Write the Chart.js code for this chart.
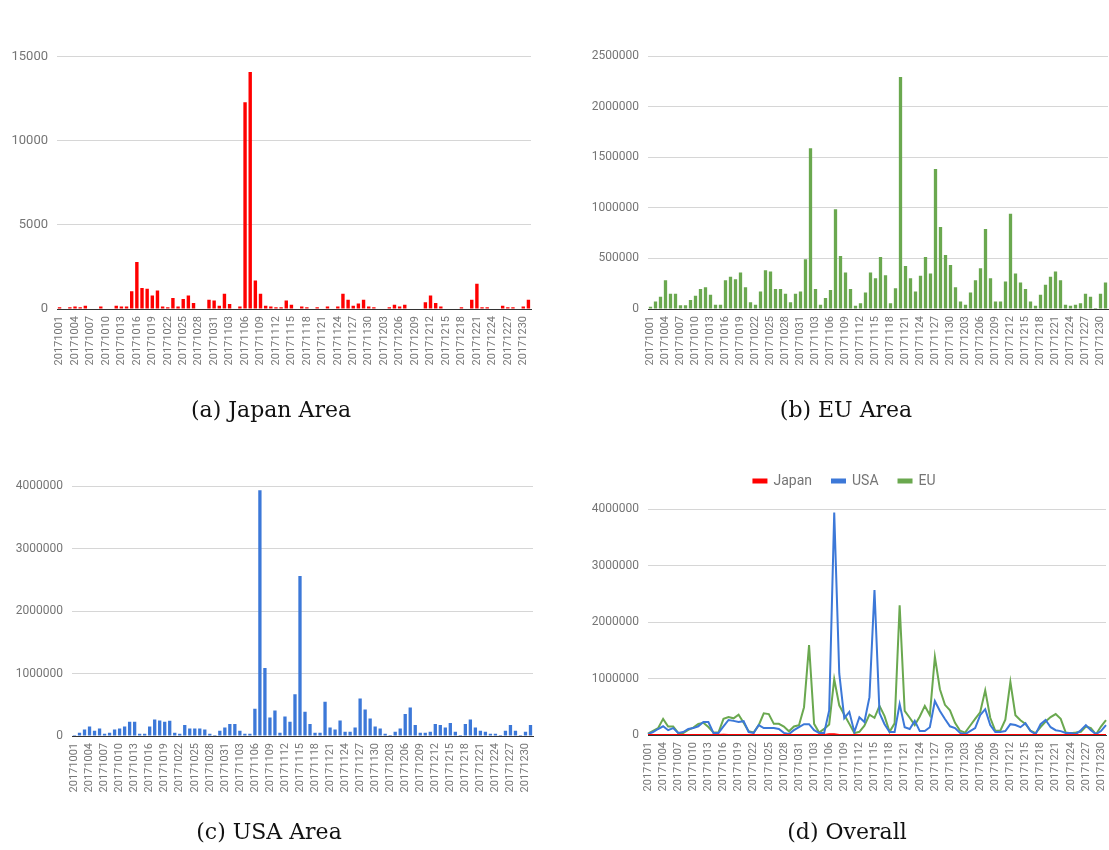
<!DOCTYPE html>
<html lang="en">
  <head>
    <meta charset="utf-8" />
    <title>Daily volume by area, Oct-Dec 2017</title>
    <style>
      * {
        margin: 0;
        padding: 0;
      }
      body {
        width: 1109px;
        height: 850px;
        position: relative;
        background: white;
        font-family: Roboto, sans-serif;
      }
      .panel {
        position: absolute;
      }
      .caption {
        position: absolute;
        width: 300px;
        text-align: center;
        font-family: "DejaVu Serif", serif;
        font-size: 22px;
        line-height: 26px;
        color: #111;
      }
    </style>
  </head>
  <body>
    <div class="panel" style="left: 0; top: 40px; width: 540px; height: 370px">
      <canvas id="japanChart"></canvas>
    </div>
    <div class="panel" style="left: 560px; top: 40px; width: 549px; height: 370px">
      <canvas id="euChart"></canvas>
    </div>
    <div class="panel" style="left: 0; top: 470px; width: 540px; height: 366px">
      <canvas id="usaChart"></canvas>
    </div>
    <div class="panel" style="left: 560px; top: 454px; width: 549px; height: 382px">
      <canvas id="overallChart"></canvas>
    </div>

    <div class="caption" style="left: 121px; top: 397px">(a) Japan Area</div>
    <div class="caption" style="left: 696px; top: 397px">(b) EU Area</div>
    <div class="caption" style="left: 119px; top: 819px">(c) USA Area</div>
    <div class="caption" style="left: 697px; top: 819px">(d) Overall</div>

    <script src="https://cdn.jsdelivr.net/npm/chart.js"></script>

    <script>
      // one label per day, 20171001 .. 20171231
      const days = [];
      [[10, 31], [11, 30], [12, 31]].forEach(([month, count]) => {
        for (let d = 1; d <= count; d++) {
          days.push("2017" + month + String(d).padStart(2, "0"));
        }
      });

      const japan = [
        100, 0, 100, 150, 100, 200, 0, 0, 150, 0, 0, 200, 150, 150, 1050, 2800,
        1250, 1200, 800, 1100, 150, 100, 650, 150, 600, 800, 350, 0, 0, 550, 500,
        200, 900, 300, 0, 150, 12300, 14100, 1700, 900, 200, 150, 100, 100, 500,
        250, 0, 150, 100, 0, 100, 0, 150, 0, 150, 900, 550, 200, 330, 550, 150,
        100, 0, 0, 100, 250, 150, 250, 0, 0, 0, 400, 800, 350, 150, 0, 0, 0, 100,
        0, 550, 1500, 100, 100, 0, 0, 200, 100, 100, 0, 150, 550,
      ];

      const usa = [
        16000, 53000, 106000, 154000, 85000, 122000, 37000, 53000, 106000, 122000,
        154000, 229000, 229000, 37000, 37000, 154000, 266000, 250000, 229000,
        245000, 53000, 37000, 176000, 122000, 122000, 122000, 106000, 37000, 16000,
        85000, 138000, 191000, 191000, 85000, 37000, 37000, 436000, 3936000,
        1090000, 298000, 410000, 53000, 314000, 229000, 670000, 2564000, 388000,
        191000, 53000, 53000, 548000, 138000, 106000, 250000, 69000, 69000, 138000,
        601000, 426000, 282000, 154000, 122000, 37000, 16000, 69000, 122000,
        351000, 457000, 176000, 53000, 53000, 69000, 191000, 176000, 138000,
        207000, 69000, 16000, 191000, 266000, 138000, 85000, 69000, 37000, 37000,
        16000, 85000, 176000, 85000, 16000, 69000, 176000,
      ];

      const eu = [
        23000, 75000, 120000, 285000, 150000, 150000, 36000, 36000, 90000, 130000,
        197000, 216000, 140000, 43000, 43000, 285000, 318000, 295000, 360000,
        216000, 66000, 43000, 174000, 384000, 370000, 197000, 197000, 150000,
        66000, 150000, 174000, 492000, 1590000, 197000, 43000, 108000, 187000,
        987000, 525000, 360000, 197000, 33000, 56000, 164000, 360000, 305000,
        515000, 334000, 56000, 206000, 2295000, 426000, 305000, 174000, 328000,
        515000, 351000, 1384000, 810000, 534000, 436000, 216000, 75000, 43000,
        164000, 285000, 403000, 790000, 305000, 75000, 75000, 272000, 941000,
        351000, 262000, 197000, 75000, 33000, 140000, 239000, 318000, 370000,
        285000, 43000, 33000, 43000, 56000, 150000, 120000, 10000, 150000, 262000,
      ];

      const RED = "#ff0000";
      const BLUE = "#3c78d8";
      const GREEN = "#6aa84f";
      const TICK_GREY = "#757575";

      // shared axes; sizes are fixed so the plot areas land where the figure has them
      function axes(yMax, yStep, yWidth, xHeight, yFont) {
        return {
          x: {
            grid: { display: false, drawTicks: false },
            border: { display: true, color: "#333", width: 1 },
            afterFit(scale) {
              scale.height = xHeight;
              // rotated labels make chart.js reserve room at the sides, we don't want it
              scale.paddingLeft = 0;
              scale.paddingRight = 0;
            },
            ticks: {
              autoSkip: false,
              minRotation: 90,
              maxRotation: 90,
              padding: 7,
              color: TICK_GREY,
              font: { family: "Roboto", size: 11 },
              // only every third day gets a label
              callback(value, index) {
                return index % 3 === 0 ? this.getLabelForValue(value) : "";
              },
            },
          },
          y: {
            min: 0,
            max: yMax,
            border: { display: false },
            grid: {
              drawTicks: false,
              color: (ctx) => (ctx.tick && ctx.tick.value === 0 ? "rgba(0,0,0,0)" : "#d6d6d6"),
            },
            afterFit(scale) {
              scale.width = yWidth;
            },
            ticks: {
              stepSize: yStep,
              padding: 9,
              color: TICK_GREY,
              font: { family: "Roboto", size: yFont },
              callback: (value) => String(value),
            },
          },
        };
      }

      function barChart(id, values, color, yMax, yStep, yWidth, xHeight, pad, yFont) {
        return new Chart(document.getElementById(id), {
          type: "bar",
          data: {
            labels: days,
            datasets: [
              {
                data: values,
                backgroundColor: color,
                categoryPercentage: 1,
                barPercentage: 0.66,
              },
            ],
          },
          options: {
            responsive: true,
            maintainAspectRatio: false,
            animation: false,
            layout: { padding: pad },
            plugins: { legend: { display: false }, tooltip: { enabled: false } },
            scales: axes(yMax, yStep, yWidth, xHeight, yFont),
          },
        });
      }

      barChart("japanChart", japan, RED, 15000, 5000, 57, 101, { top: 15, right: 9 }, 13);
      barChart("euChart", eu, GREEN, 2500000, 500000, 88, 101, { top: 15, right: 1 }, 12);
      barChart("usaChart", usa, BLUE, 4000000, 1000000, 72, 100, { top: 15, right: 7 }, 12);

      // extra room under the legend, the default leaves too little
      const legendGap = {
        id: "legendGap",
        beforeInit(chart) {
          if (!chart.legend) return;
          const fit = chart.legend.fit;
          chart.legend.fit = function () {
            fit.bind(chart.legend)();
            this.height += 11;
          };
        },
      };

      const line = (label, values, color) => ({
        label,
        data: values,
        borderColor: color,
        backgroundColor: color,
        borderWidth: 2,
        pointRadius: 0,
        tension: 0,
      });

      new Chart(document.getElementById("overallChart"), {
        type: "line",
        data: {
          labels: days,
          datasets: [line("Japan", japan, RED), line("USA", usa, BLUE), line("EU", eu, GREEN)],
        },
        options: {
          responsive: true,
          maintainAspectRatio: false,
          animation: false,
          layout: { padding: { left: 23, right: 3 } },
          plugins: {
            tooltip: { enabled: false },
            legend: {
              position: "top",
              labels: {
                boxWidth: 13,
                boxHeight: 3,
                padding: 20,
                color: TICK_GREY,
                font: { family: "Roboto", size: 14 },
              },
            },
          },
          scales: axes(4000000, 1000000, 65, 101, 12),
        },
        plugins: [legendGap],
      });
    </script>
  </body>
</html>
